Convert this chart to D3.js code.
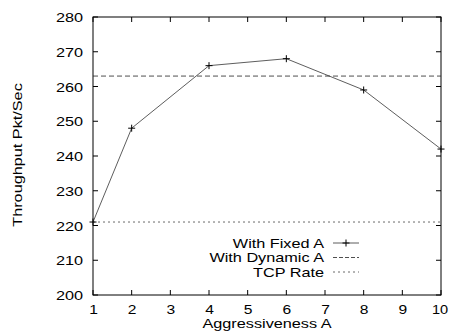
<!DOCTYPE html>
<html><head><meta charset="utf-8">
<script src="https://cdn.jsdelivr.net/npm/d3@7"></script>
<style>body{margin:0;background:#fff}text{font-family:"Liberation Sans",Arial,sans-serif;fill:#000}</style>
</head><body><svg id="c" width="449" height="331"></svg>
<script>
const aggressiveness = [1, 2, 4, 6, 8, 10];
const fixedA = [221, 248, 266, 268, 259, 242];
const dynamicA = 263;
const tcpRate = 221;
const xTicks = [1,2,3,4,5,6,7,8,9,10];
const yTicks = [200,210,220,230,240,250,260,270,280];
const seriesNames = ["With Fixed A", "With Dynamic A", "TCP Rate"];

const svg = d3.select("#c");
const L = 93, R = 441, T = 17, B = 295;
const SX = 1.25, FS = 13;
const x = d3.scaleLinear().domain([1,10]).range([L,R]);
const y = d3.scaleLinear().domain([200,280]).range([B,T]);

// ticks (inward, mirrored)
const tl = 5;
const g = svg.append("g").attr("stroke","#000").attr("stroke-width",1);
xTicks.forEach(v=>{
  g.append("line").attr("x1",x(v)).attr("x2",x(v)).attr("y1",B).attr("y2",B-tl);
  g.append("line").attr("x1",x(v)).attr("x2",x(v)).attr("y1",T).attr("y2",T+tl);
});
yTicks.forEach(v=>{
  g.append("line").attr("x1",L).attr("x2",L+tl).attr("y1",y(v)).attr("y2",y(v));
  g.append("line").attr("x1",R).attr("x2",R-tl).attr("y1",y(v)).attr("y2",y(v));
});

// axes labels via d3 axis (no lines)
const xa = svg.append("g").attr("transform",`translate(0,${B})`)
  .call(d3.axisBottom(x).tickValues(xTicks).tickSize(0).tickPadding(0).tickFormat(d3.format("d")));
xa.select(".domain").remove();
xa.selectAll("text").attr("y",null).attr("dy",null)
  .attr("transform",d=>d===10?"translate(-1.5,19) scale(1.12,1)":"translate(0,19) scale(1.2,1)")
  .style("font-size",FS+"px").attr("font-family",null);
const ya = svg.append("g").attr("transform",`translate(${L},0)`)
  .call(d3.axisLeft(y).tickValues(yTicks).tickSize(0).tickPadding(0).tickFormat(d3.format("d")));
ya.select(".domain").remove();
ya.selectAll("text").attr("x",null).attr("dy","0.35em").attr("transform","translate(-10,0) scale(1.25,1)")
  .style("font-size",FS+"px").attr("font-family",null);

// frame
svg.append("rect").attr("x",L).attr("y",T).attr("width",R-L).attr("height",B-T)
  .attr("fill","none").attr("stroke","#000").attr("stroke-width",1);

// horizontal reference lines
svg.append("line").attr("x1",L).attr("x2",R).attr("y1",y(dynamicA)).attr("y2",y(dynamicA))
  .attr("stroke","#222").attr("stroke-width",0.8).attr("stroke-dasharray","5,3");
svg.append("line").attr("x1",L).attr("x2",R).attr("y1",y(tcpRate)).attr("y2",y(tcpRate))
  .attr("stroke","#444").attr("stroke-width",0.8).attr("stroke-dasharray","2,3");

// data line
const line = d3.line().x((d,i)=>x(aggressiveness[i])).y(d=>y(d));
svg.append("path").attr("d",line(fixedA)).attr("fill","none").attr("stroke","#333").attr("stroke-width",0.8);
const ms = 3.5;
fixedA.forEach((v,i)=>{
  const cx = x(aggressiveness[i]), cy = y(v);
  svg.append("path").attr("d",`M${cx-ms},${cy}H${cx+ms}M${cx},${cy-ms}V${cy+ms}`)
    .attr("stroke","#000").attr("stroke-width",1);
});

// legend
const lx = 324, ly = [243, 257.5, 272];
seriesNames.forEach((n,i)=>{
  svg.append("text").attr("text-anchor","end").attr("dy","0.35em")
    .attr("transform",`translate(${lx},${ly[i]}) scale(${SX},1)`).style("font-size",FS+"px").text(n);
});
svg.append("line").attr("x1",333).attr("x2",359).attr("y1",ly[0]).attr("y2",ly[0]).attr("stroke","#333").attr("stroke-width",0.8);
svg.append("path").attr("d",`M${346-ms},${ly[0]}H${346+ms}M346,${ly[0]-ms}V${ly[0]+ms}`).attr("stroke","#000");
svg.append("line").attr("x1",333).attr("x2",359).attr("y1",ly[1]).attr("y2",ly[1]).attr("stroke","#222").attr("stroke-width",0.8).attr("stroke-dasharray","4,2");
svg.append("line").attr("x1",333).attr("x2",359).attr("y1",ly[2]).attr("y2",ly[2]).attr("stroke","#444").attr("stroke-width",0.8).attr("stroke-dasharray","2,3");

// axis titles
svg.append("text").attr("text-anchor","middle")
  .attr("transform",`translate(267,328) scale(${SX},1)`).style("font-size",FS+"px").text("Aggressiveness A");
svg.append("text").attr("text-anchor","middle")
  .attr("transform",`translate(22,155) rotate(-90) scale(${SX},1)`).style("font-size",FS+"px").text("Throughput Pkt/Sec");
</script></body></html>
